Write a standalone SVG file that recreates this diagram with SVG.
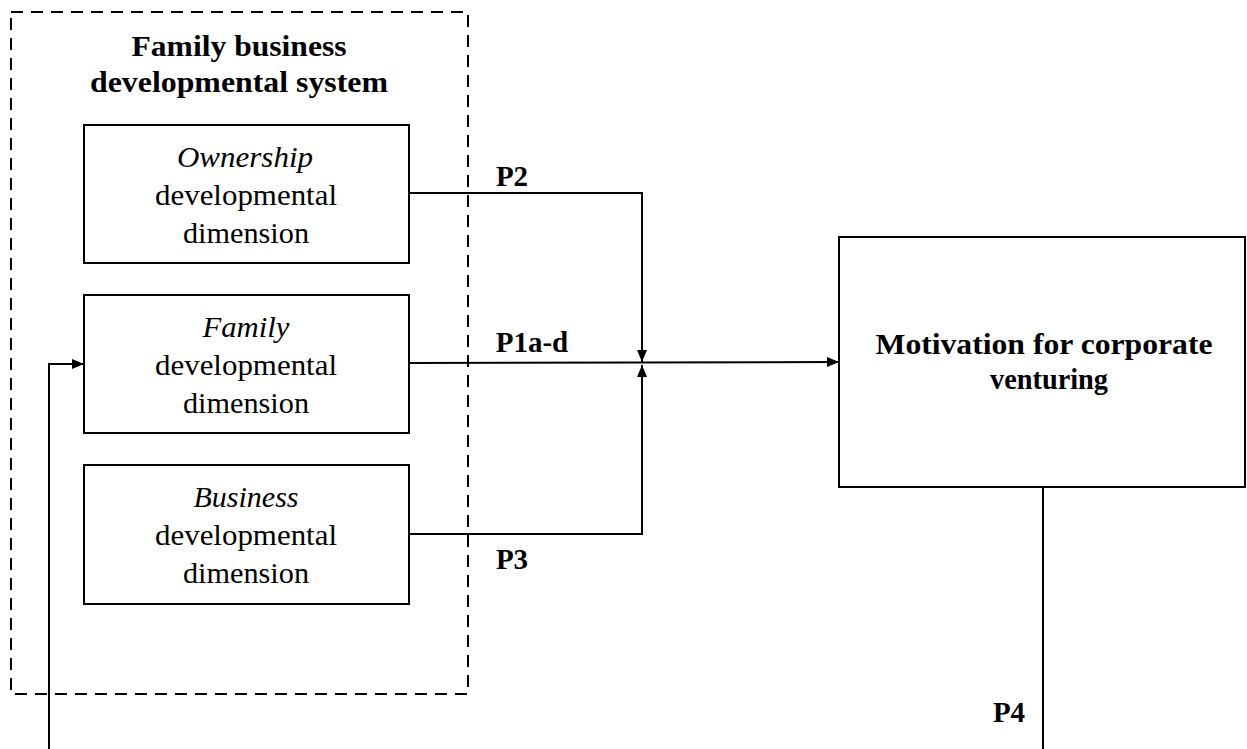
<svg xmlns="http://www.w3.org/2000/svg" width="1247" height="749" viewBox="0 0 1247 749">
<style>
.box{fill:#fff;stroke:#000;stroke-width:2}
.dash{fill:none;stroke:#000;stroke-width:2;stroke-dasharray:12 8}
.ln{fill:none;stroke:#000;stroke-width:2}
.t{font-family:"Liberation Serif","Times New Roman",serif;font-size:30px;text-anchor:middle;fill:#000}
.b{font-weight:bold}
.i{font-style:italic}
.p{font-size:29px}
</style>
<defs>
<marker id="ah" viewBox="0 0 12 10" refX="12" refY="5" markerWidth="12" markerHeight="10" markerUnits="userSpaceOnUse" orient="auto">
<path d="M0,0 L12,5 L0,10 Z" fill="#000"/>
</marker>
</defs>
<g id="system">
<rect class="dash" x="11" y="12" width="457" height="682"/>
<text class="t b" x="239" y="56" font-size="32" textLength="215" lengthAdjust="spacingAndGlyphs">Family business</text>
<text class="t b" x="239" y="92" font-size="32" textLength="298" lengthAdjust="spacingAndGlyphs">developmental system</text>
</g>
<g id="ownership">
<rect class="box" x="84" y="125" width="325" height="138"/>
<text class="t i" x="245" y="167" textLength="136" lengthAdjust="spacingAndGlyphs">Ownership</text>
<text class="t" x="246" y="205" textLength="182" lengthAdjust="spacingAndGlyphs">developmental</text>
<text class="t" x="246" y="243" textLength="126" lengthAdjust="spacingAndGlyphs">dimension</text>
</g>
<g id="family">
<rect class="box" x="84" y="295" width="325" height="138"/>
<text class="t i" x="246" y="337" textLength="87" lengthAdjust="spacingAndGlyphs">Family</text>
<text class="t" x="246" y="375" textLength="182" lengthAdjust="spacingAndGlyphs">developmental</text>
<text class="t" x="246" y="413" textLength="126" lengthAdjust="spacingAndGlyphs">dimension</text>
</g>
<g id="business">
<rect class="box" x="84" y="465" width="325" height="139"/>
<text class="t i" x="246" y="507">Business</text>
<text class="t" x="246" y="545" textLength="182" lengthAdjust="spacingAndGlyphs">developmental</text>
<text class="t" x="246" y="583" textLength="126" lengthAdjust="spacingAndGlyphs">dimension</text>
</g>
<g id="motivation">
<rect class="box" x="839" y="237" width="406" height="250"/>
<text class="t b" x="1044" y="354" font-size="34" textLength="337" lengthAdjust="spacingAndGlyphs">Motivation for corporate</text>
<text class="t b" x="1049" y="389" font-size="34" textLength="118" lengthAdjust="spacingAndGlyphs">venturing</text>
</g>
<g id="connectors">
<polyline class="ln" points="409,193 642,193 642,362" marker-end="url(#ah)"/>
<polyline class="ln" points="409,534 642,534 642,365" marker-end="url(#ah)"/>
<line class="ln" x1="409" y1="363" x2="839" y2="362" marker-end="url(#ah)"/>
<line class="ln" x1="1043" y1="487" x2="1043" y2="749"/>
<polyline class="ln" points="49,749 49,364 84,364" marker-end="url(#ah)"/>
<text class="t b p" x="512" y="186">P2</text>
<text class="t b p" x="532" y="352">P1a-d</text>
<text class="t b p" x="512" y="569">P3</text>
<text class="t b p" x="1009" y="722">P4</text>
</g>
</svg>
